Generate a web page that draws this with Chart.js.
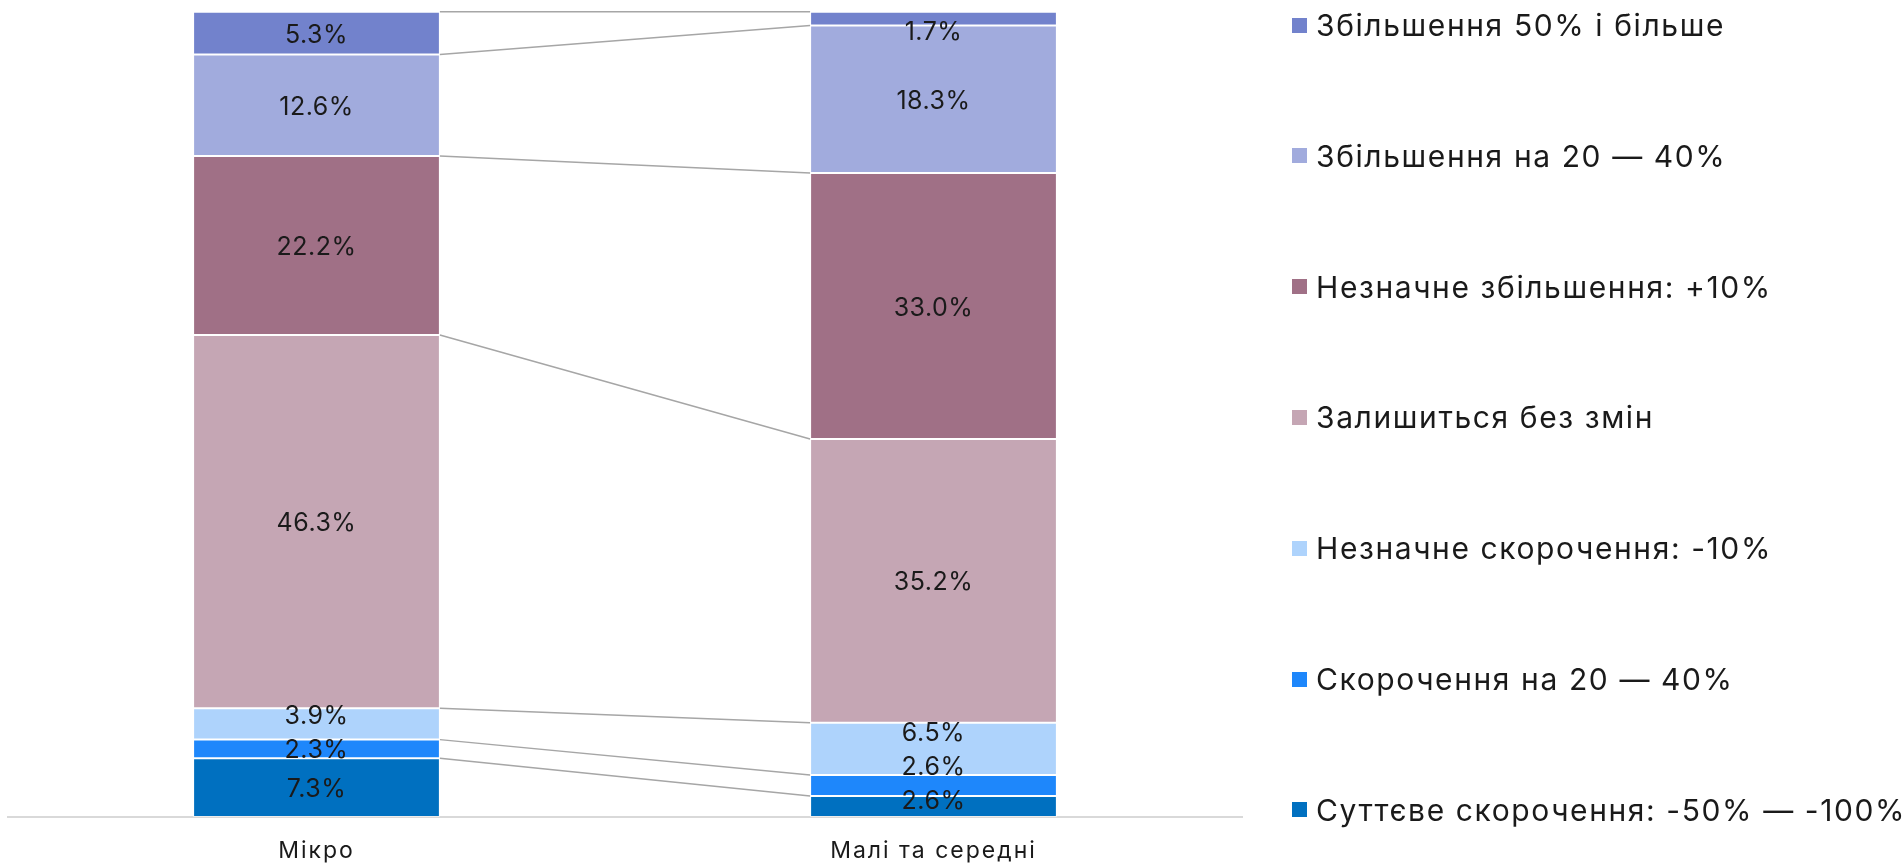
<!DOCTYPE html>
<html>
<head>
<meta charset="utf-8">
<script src="https://cdn.jsdelivr.net/npm/chart.js@4/dist/chart.umd.min.js"></script>
<style>
    html, body { margin: 0; padding: 0; background: #fff; }
    #wrap { position: relative; width: 1903px; height: 864px; }
    #legend { position: absolute; left: 1292px; top: 0; font-family: Inter, 'Liberation Sans', sans-serif; font-size: 30px; letter-spacing: 1.6px; color: #1a1a1a; }
    .legend-item { position: absolute; left: 0; height: 40px; line-height: 40px; white-space: nowrap; display: flex; align-items: center; }
    .legend-box { width: 15px; height: 15px; margin-right: 9px; flex: none; }
</style>
</head>
<body>
<div id="wrap">
    <canvas id="chart" width="1903" height="864"></canvas>
    <div id="legend"></div>
</div>
<script>
const categories = ['Мікро', 'Малі та середні'];

// знизу вгору, як складаються стовпці
const seriesNames = [
    'Суттєве скорочення: -50% — -100%',
    'Скорочення на 20 — 40%',
    'Незначне скорочення: -10%',
    'Залишиться без змін',
    'Незначне збільшення: +10%',
    'Збільшення на 20 — 40%',
    'Збільшення 50% і більше'
];
const microValues = [7.3, 2.3, 3.9, 46.3, 22.2, 12.6, 5.3];
const smeValues = [2.6, 2.6, 6.5, 35.2, 33.0, 18.3, 1.7];
const seriesColors = ['#0070c0', '#1e87fb', '#aed3fc', '#c5a6b4', '#a07086', '#a1abdd', '#7282cc'];

const ctx = document.getElementById('chart').getContext('2d');

// розрядка для підписів осі
const tickSpacingPlugin = {
    id: 'tickSpacing',
    beforeDraw(chart) { chart.ctx.letterSpacing = '2px'; },
    beforeDatasetsDraw(chart) { chart.ctx.letterSpacing = '0px'; }
};

// лінії між стовпцями на межах сегментів
const seriesLinesPlugin = {
    id: 'seriesLines',
    beforeDatasetsDraw(chart) {
        const c = chart.ctx;
        c.save();
        c.strokeStyle = '#a6a6a6';
        c.lineWidth = 1.5;
        chart.data.datasets.forEach((ds, i) => {
            const meta = chart.getDatasetMeta(i);
            const a = meta.data[0];
            const b = meta.data[1];
            c.beginPath();
            c.moveTo(a.x + a.width / 2, a.y);
            c.lineTo(b.x - b.width / 2, b.y);
            c.stroke();
        });
        c.restore();
    }
};

// підписи значень у сегментах (дрібні зсуваються вгору, щоб не налазили)
const valueLabelsPlugin = {
    id: 'valueLabels',
    afterDatasetsDraw(chart) {
        const c = chart.ctx;
        const area = chart.chartArea;
        const gap = 34;
        c.save();
        c.font = '25px Inter, "Liberation Sans", sans-serif';
        c.letterSpacing = '0.5px';
        c.fillStyle = '#1a1a1a';
        c.textAlign = 'center';
        c.textBaseline = 'middle';
        categories.forEach((cat, j) => {
            let prev = null;
            chart.data.datasets.forEach((ds, i) => {
                const el = chart.getDatasetMeta(i).data[j];
                let y = (el.y + el.base) / 2 + 2;
                y = Math.min(y, area.bottom - 16);
                if (prev !== null && y > prev - gap) y = prev - gap;
                y = Math.max(y, area.top + 21);
                prev = y;
                c.fillText(ds.data[j].toFixed(1) + '%', el.x, y);
            });
        });
        c.restore();
    }
};

const datasets = seriesNames.map((name, i) => ({
    label: name,
    data: [microValues[i], smeValues[i]],
    backgroundColor: seriesColors[i],
    borderColor: 'rgba(255,255,255,0.5)',
    borderWidth: 1,
    borderSkipped: false,
    categoryPercentage: 1,
    barPercentage: 0.4
}));

const chart = new Chart(ctx, {
    type: 'bar',
    data: { labels: categories, datasets: datasets },
    options: {
        responsive: false,
        animation: false,
        layout: { padding: { left: 8, right: 661, top: 11, bottom: 0 } },
        scales: {
            x: {
                stacked: true,
                grid: { display: false, drawTicks: false },
                border: { display: true, color: '#d9d9d9', width: 2 },
                ticks: {
                    padding: 20,
                    color: '#1a1a1a',
                    font: { family: 'Inter, "Liberation Sans", sans-serif', size: 23 }
                },
                afterFit: scale => { scale.height = 47; }
            },
            y: {
                stacked: true,
                display: false,
                min: 0,
                max: 100
            }
        },
        plugins: {
            legend: { display: false },
            tooltip: { enabled: false }
        }
    },
    plugins: [tickSpacingPlugin, seriesLinesPlugin, valueLabelsPlugin]
});

// легенда справа, зверху вниз
const legendEl = document.getElementById('legend');
seriesNames.slice().reverse().forEach((name, k) => {
    const idx = seriesNames.length - 1 - k;
    const item = document.createElement('div');
    item.className = 'legend-item';
    item.style.top = (25 + k * 130.8 - 20) + 'px';
    item.innerHTML = `<span class="legend-box" style="background:${seriesColors[idx]}"></span><span>${name}</span>`;
    legendEl.appendChild(item);
});
</script>
</body>
</html>
